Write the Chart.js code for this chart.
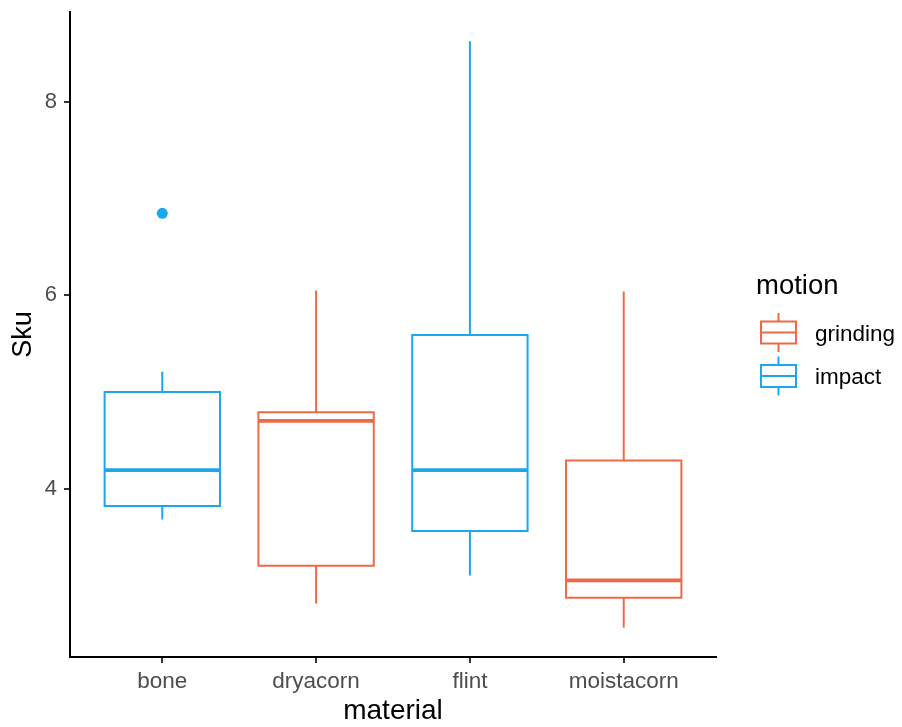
<!DOCTYPE html>
<html><head><meta charset="utf-8">
<script src="https://cdn.jsdelivr.net/npm/chart.js@4.4.1/dist/chart.umd.min.js"></script>
<style>
html,body{margin:0;padding:0;background:#fff;}
#wrap{position:relative;width:902px;height:727px;overflow:hidden;font-family:"Liberation Sans",Arial,sans-serif;}
canvas{position:absolute;left:0;top:0;}
.lg{position:absolute;white-space:nowrap;color:#000;}
svg{position:absolute;left:0;top:0;}
</style></head><body>
<div id="wrap"><canvas id="c" width="902" height="727"></canvas>
<svg id="keys" width="902" height="727"></svg>
<div id="legend"></div></div>
<script>
// ---- data ----
const categories = ['bone', 'dryacorn', 'flint', 'moistacorn'];
const motionOfCategory = ['impact', 'grinding', 'impact', 'grinding'];
const whiskerLow  = [3.68, 2.81, 3.10, 2.56];
const q1          = [3.82, 3.20, 3.56, 2.87];
const median      = [4.19, 4.70, 4.19, 3.05];
const q3          = [5.00, 4.79, 5.59, 4.29];
const whiskerHigh = [5.21, 6.05, 8.63, 6.04];
const outlierCategory = ['bone'];
const outlierValue    = [6.85];
const yTicks = [4, 6, 8];
const motionLevels = ['grinding', 'impact'];
const motionColors = ['#EE6A47', '#1CA6EE'];

// ---- build ----
const HALF = 0.375;
const FONT = '"Liberation Sans", Arial, sans-serif';
const datasets = [];
categories.forEach((cat, i) => {
  const x = i + 1;
  const col = motionColors[motionLevels.indexOf(motionOfCategory[i])];
  const base = {showLine: true, pointRadius: 0, pointHoverRadius: 0, borderColor: col, fill: false, tension: 0};
  datasets.push(Object.assign({}, base, {
    label: cat + ' box', borderWidth: 2, borderJoinStyle: 'miter', borderCapStyle: 'square',
    data: [{x: x - HALF, y: q1[i]}, {x: x + HALF, y: q1[i]}, {x: x + HALF, y: q3[i]}, {x: x - HALF, y: q3[i]}, {x: x - HALF, y: q1[i]}]
  }));
  datasets.push(Object.assign({}, base, {
    label: cat + ' lower whisker', borderWidth: 2, borderCapStyle: 'butt',
    data: [{x: x, y: whiskerLow[i]}, {x: x, y: q1[i]}]
  }));
  datasets.push(Object.assign({}, base, {
    label: cat + ' upper whisker', borderWidth: 2, borderCapStyle: 'butt',
    data: [{x: x, y: q3[i]}, {x: x, y: whiskerHigh[i]}]
  }));
  datasets.push(Object.assign({}, base, {
    label: cat + ' median', borderWidth: 3.8, borderCapStyle: 'butt',
    data: [{x: x - HALF, y: median[i]}, {x: x + HALF, y: median[i]}]
  }));
});
outlierCategory.forEach((cat, k) => {
  const i = categories.indexOf(cat);
  const col = motionColors[motionLevels.indexOf(motionOfCategory[i])];
  datasets.push({label: cat + ' outlier', showLine: false, pointRadius: 5.5, pointHoverRadius: 5.5,
    pointBorderWidth: 0, backgroundColor: col, borderColor: col,
    data: [{x: i + 1, y: outlierValue[k]}]});
});

const allVals = whiskerLow.concat(whiskerHigh, outlierValue);
const vmin = Math.min(...allVals), vmax = Math.max(...allVals);
const pad = (vmax - vmin) * 0.05;

new Chart(document.getElementById('c'), {
  type: 'scatter',
  data: {datasets},
  options: {
    responsive: false, animation: false, devicePixelRatio: 1,
    layout: {padding: {left: 0, top: 12, right: 186, bottom: 0}},
    plugins: {legend: {display: false}, tooltip: {enabled: false}},
    events: [],
    scales: {
      x: {
        type: 'linear', min: 0.4, max: 4.6,
        afterBuildTicks: s => { s.ticks = categories.map((c, i) => ({value: i + 1})); },
        afterFit: s => { s.height = 70; s.paddingLeft = 0; s.paddingRight = 0; },
        ticks: {callback: (v) => categories[Math.round(v) - 1] || '', color: '#4D4D4D',
          font: {family: FONT, size: 22.5}, padding: 5, maxRotation: 0, autoSkip: false},
        grid: {display: true, drawOnChartArea: false, drawTicks: true, tickLength: 6, color: '#333333', lineWidth: 2},
        border: {display: true, color: '#000000', width: 2},
        title: {display: true, text: 'material', color: '#000000', font: {family: FONT, size: 28, lineHeight: 1.2}, padding: {top: 0, bottom: -1}}
      },
      y: {
        type: 'linear', min: vmin - pad, max: vmax + pad,
        afterBuildTicks: s => { s.ticks = yTicks.map(v => ({value: v})); },
        afterFit: s => { s.width = 70; s.paddingTop = 0; s.paddingBottom = 0; },
        ticks: {color: '#4D4D4D', font: {family: FONT, size: 22}, padding: 7},
        grid: {display: true, drawOnChartArea: false, drawTicks: true, tickLength: 6, color: '#333333', lineWidth: 2},
        border: {display: true, color: '#000000', width: 2},
        title: {display: true, text: 'Sku', color: '#000000', font: {family: FONT, size: 27, lineHeight: 1.2}, padding: {top: 7, bottom: 0}}
      }
    }
  }
});

// ---- legend ----
const lg = document.getElementById('legend');
const keys = document.getElementById('keys');
const title = document.createElement('div');
title.className = 'lg';
title.textContent = 'motion';
title.style.cssText = 'left:756px;top:271px;font-size:27.5px;line-height:27px;';
lg.appendChild(title);
const keyCenters = [332.5, 376];
const NS = 'http://www.w3.org/2000/svg';
motionLevels.forEach((m, j) => {
  const cy = keyCenters[j], col = motionColors[j];
  const x0 = 761, x1 = 796, cx = (x0 + x1) / 2, hh = 11, wh = 8.5;
  const parts = [
    ['rect', {x: x0, y: cy - hh, width: x1 - x0, height: 2 * hh}],
    ['line', {x1: x0, y1: cy, x2: x1, y2: cy}],
    ['line', {x1: cx, y1: cy - hh - wh, x2: cx, y2: cy - hh}],
    ['line', {x1: cx, y1: cy + hh, x2: cx, y2: cy + hh + wh}]
  ];
  parts.forEach(([tag, attrs]) => {
    const el = document.createElementNS(NS, tag);
    Object.entries(attrs).forEach(([k, v]) => el.setAttribute(k, v));
    el.setAttribute('fill', 'none');
    el.setAttribute('stroke', col);
    el.setAttribute('stroke-width', '2');
    keys.appendChild(el);
  });
  const t = document.createElement('div');
  t.className = 'lg';
  t.textContent = m;
  t.style.cssText = 'left:815px;top:' + (cy - 10) + 'px;font-size:22.5px;line-height:22px;';
  lg.appendChild(t);
});
</script>
</body></html>
